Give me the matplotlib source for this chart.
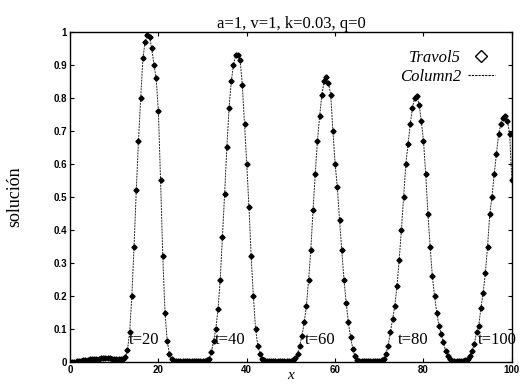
import numpy as np
import matplotlib
matplotlib.use("Agg")
import matplotlib.pyplot as plt
from matplotlib.lines import Line2D

base_0_12 = [0, 0, 0.001, 0.002, 0.003, 0.004, 0.005, 0.006, 0.007, 0.008,
             0.009, 0.01, 0.01, 0.01, 0.011, 0.011, 0.011, 0.011, 0.011, 0.01,
             0.01, 0.01, 0.009, 0.009, 0.01]
pulse_t20 = [0.015, 0.036, 0.09, 0.2, 0.35, 0.52, 0.67, 0.8, 0.92, 0.97, 0.99,
             0.985, 0.95, 0.9, 0.86, 0.76, 0.55, 0.32, 0.15, 0.065, 0.025,
             0.008, 0.003]
base_24_31 = [0.002] * 13 + [0.003, 0.005]
pulse_t40 = [0.01, 0.03, 0.065, 0.1, 0.16, 0.25, 0.38, 0.51, 0.65, 0.77, 0.85,
             0.9, 0.93, 0.93, 0.915, 0.84, 0.72, 0.6, 0.47, 0.32, 0.2, 0.1,
             0.05, 0.025, 0.01]
base_44_50 = [0.005, 0.003] + [0.002] * 10 + [0.003]
pulse_t60 = [0.005, 0.012, 0.025, 0.05, 0.08, 0.12, 0.17, 0.25, 0.34, 0.46,
             0.57, 0.67, 0.745, 0.81, 0.85, 0.862, 0.845, 0.81, 0.7, 0.6, 0.53,
             0.43, 0.34, 0.25, 0.18, 0.12, 0.075, 0.04, 0.018, 0.006]
base_65_70 = [0.003] + [0.002] * 8 + [0.003, 0.005]
pulse_t80 = [0.01, 0.025, 0.05, 0.09, 0.13, 0.17, 0.23, 0.31, 0.4, 0.5, 0.6,
             0.66, 0.72, 0.77, 0.8, 0.805, 0.78, 0.73, 0.67, 0.57, 0.45, 0.35,
             0.26, 0.2, 0.15, 0.11, 0.085, 0.06, 0.035, 0.02, 0.008]
base_86_89 = [0.004, 0.002, 0.002, 0.002, 0.002, 0.003]
pulse_t100 = [0.005, 0.01, 0.02, 0.034, 0.055, 0.09, 0.11, 0.165, 0.21, 0.27,
              0.35, 0.45, 0.5, 0.57, 0.63, 0.69, 0.72, 0.74, 0.745, 0.73, 0.69,
              0.55]

labels_t = ["t=20", "t=40", "t=60", "t=80", "t=100"]
labels_x = [13.3, 32.8, 53.2, 74.2, 92.3]

x = np.arange(0, 100.5, 0.5)
y = np.array(base_0_12 + pulse_t20 + base_24_31 + pulse_t40 + base_44_50 +
             pulse_t60 + base_65_70 + pulse_t80 + base_86_89 + pulse_t100)
assert len(x) == len(y)

serif = "Liberation Serif"

fig = plt.figure(figsize=(5.25, 3.84), dpi=100)
ax = fig.add_axes([0.1333, 0.057, 0.8417, 0.86])

ax.plot(x, y, color="#222222", lw=0.7, ls=(0, (2, 1)))
ax.plot(x, y, ls="none", marker="D", ms=2.6, color="black")

ax.set_xlim(0, 100)
ax.set_ylim(0, 1)
ax.set_xticks([0, 20, 40, 60, 80, 100])
ax.set_yticks(np.round(np.arange(0, 1.01, 0.1), 1))
ax.set_yticklabels(["0", "0.1", "0.2", "0.3", "0.4", "0.5", "0.6", "0.7",
                    "0.8", "0.9", "1"])
ax.tick_params(direction="in", top=True, right=True, length=3, width=0.8,
               labelsize=7, pad=2)
for lab in ax.get_xticklabels() + ax.get_yticklabels():
    lab.set_fontfamily("Liberation Sans")
    lab.set_fontweight("bold")
for sp in ax.spines.values():
    sp.set_linewidth(1.0)

for lx, txt in zip(labels_x, labels_t):
    ax.text(lx, 0.067, txt, fontsize=12, family=serif, va="center", ha="left")

ax.set_title("a=1, v=1, k=0.03, q=0", fontsize=12, family=serif, pad=3)
ax.set_ylabel("solución", fontsize=13, family=serif, labelpad=22)
ax.set_xlabel("x", fontsize=11, family=serif, style="italic", labelpad=-4)

handles = [Line2D([], [], ls="none", marker="D", ms=6, mfc="white",
                  mec="black", mew=1.0),
           Line2D([], [], ls=(0, (2, 1)), lw=0.8, color="black")]
ax.legend(handles, ["Travol5", "Column2"], loc="upper right",
          bbox_to_anchor=(0.995, 0.99), frameon=False, markerfirst=False,
          handlelength=1.6, handletextpad=0.4, labelspacing=0.15,
          prop={"family": serif, "style": "italic", "size": 12})

fig.savefig("out.png", dpi=100)
